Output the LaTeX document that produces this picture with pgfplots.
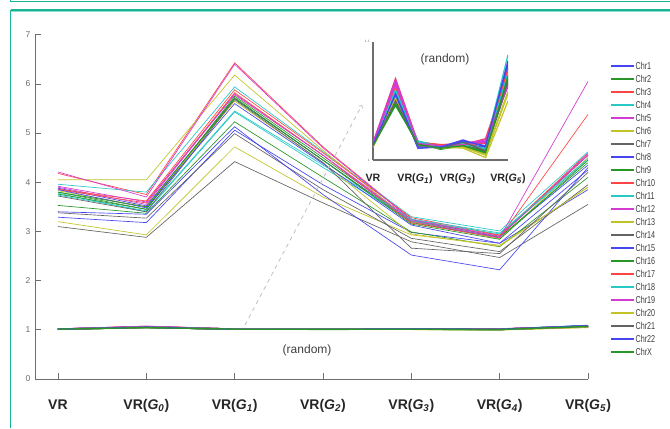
\documentclass[border=0pt]{standalone}
\usepackage{fontspec}
\setmainfont{Liberation Sans}
\newfontfamily\narrowfont[FakeStretch=0.72]{Liberation Sans}
\usepackage{pgfplots}
\pgfplotsset{compat=1.18}
\usepackage{pgfplotstable}

\definecolor{cB}{RGB}{70,70,240}
\definecolor{cG}{RGB}{40,150,40}
\definecolor{cR}{RGB}{255,70,70}
\definecolor{cC}{RGB}{40,200,200}
\definecolor{cM}{RGB}{210,60,210}
\definecolor{cY}{RGB}{195,195,40}
\definecolor{cK}{RGB}{100,100,100}
\definecolor{axisgray}{RGB}{110,110,110}
\definecolor{frameteal}{RGB}{25,180,150}
\definecolor{legtext}{RGB}{60,60,60}
\colorlet{s1}{cB}\colorlet{s2}{cG}\colorlet{s3}{cR}\colorlet{s4}{cC}\colorlet{s5}{cM}\colorlet{s6}{cY}\colorlet{s7}{cK}
\colorlet{s8}{cB}\colorlet{s9}{cG}\colorlet{s10}{cR}\colorlet{s11}{cC}\colorlet{s12}{cM}\colorlet{s13}{cY}\colorlet{s14}{cK}
\colorlet{s15}{cB}\colorlet{s16}{cG}\colorlet{s17}{cR}\colorlet{s18}{cC}\colorlet{s19}{cM}\colorlet{s20}{cY}\colorlet{s21}{cK}
\colorlet{s22}{cB}\colorlet{s23}{cG}

\pgfplotstableread{
x c1 c2 c3 c4 c5 c6 c7 c8 c9 c10 c11 c12 c13 c14 c15 c16 c17 c18 c19 c20 c21 c22 c23
0 3.88 3.80 4.18 3.96 3.90 4.05 3.10 3.29 3.53 3.86 3.78 4.21 3.20 3.38 3.40 3.76 3.85 3.74 3.92 3.83 3.72 3.85 3.80
1 3.52 3.45 3.75 3.80 3.55 4.05 2.88 3.18 3.37 3.62 3.40 3.70 2.93 3.27 3.35 3.45 3.58 3.42 3.60 3.50 3.40 3.48 3.50
2 5.70 5.75 6.43 5.94 5.80 6.18 4.42 5.06 5.23 5.88 5.43 6.40 4.72 4.99 5.13 5.70 5.82 5.45 5.78 5.65 5.68 5.60 5.72
3 4.45 4.50 4.72 4.62 4.55 4.65 3.58 3.95 4.10 4.60 4.30 4.70 3.70 3.85 3.75 4.45 4.55 4.35 4.55 4.40 4.40 4.38 4.45
4 3.20 3.22 3.25 3.30 3.24 3.20 2.79 2.98 2.99 3.28 3.22 3.24 2.93 2.86 2.52 3.18 3.17 3.25 3.21 2.95 2.66 3.13 3.15
5 2.88 2.90 2.92 3.01 2.90 2.85 2.47 2.76 2.69 2.93 2.95 2.90 2.72 2.59 2.22 2.88 2.87 2.97 2.87 2.70 2.55 2.76 2.84
6 4.35 4.55 4.60 4.62 4.58 4.50 3.55 3.85 4.10 4.55 4.45 4.55 3.90 3.95 4.30 4.40 5.38 4.48 6.05 3.90 4.20 4.25 4.45
}\maindata

\pgfplotstableread{
x r1 r2 r3 r4 r5 r6 r7 r8 r9 r10 r11 r12 r13 r14 r15 r16 r17 r18 r19 r20 r21 r22 r23
0 1.013 1.012 1.014 1.013 1.015 1.011 1.012 1.014 1.012 1.013 1.013 1.014 1.011 1.012 1.013 1.012 1.014 1.013 1.014 1.011 1.012 1.013 1.012
1 1.058 1.050 1.069 1.060 1.068 1.052 1.049 1.056 1.046 1.063 1.058 1.066 1.053 1.050 1.057 1.048 1.062 1.059 1.064 1.051 1.050 1.055 1.047
2 1.012 1.013 1.015 1.016 1.014 1.013 1.012 1.010 1.014 1.015 1.016 1.014 1.013 1.013 1.010 1.013 1.014 1.015 1.014 1.012 1.013 1.011 1.013
3 1.011 1.010 1.013 1.012 1.012 1.011 1.010 1.011 1.009 1.013 1.011 1.012 1.010 1.010 1.011 1.010 1.012 1.011 1.012 1.010 1.010 1.011 1.010
4 1.014 1.013 1.013 1.015 1.014 1.010 1.014 1.013 1.012 1.014 1.013 1.014 1.011 1.016 1.017 1.012 1.013 1.014 1.013 1.011 1.015 1.016 1.012
5 1.010 1.008 1.018 1.012 1.017 1.002 1.007 1.011 1.006 1.015 1.010 1.016 1.004 1.008 1.011 1.007 1.014 1.009 1.015 1.005 1.008 1.012 1.006
6 1.080 1.070 1.075 1.089 1.065 1.050 1.068 1.078 1.066 1.072 1.074 1.062 1.056 1.064 1.084 1.069 1.077 1.073 1.063 1.058 1.067 1.082 1.071
}\randdata

\newcommand{\G}[1]{\textit{G}\textsubscript{\textit{#1}}}

\begin{document}
\begin{tikzpicture}[x=0.75pt,y=0.75pt]
\useasboundingbox (0,0) rectangle (670,428);
% frame
\draw[frameteal, line width=0.75pt] (10,426.8) -- (670,426.8);
\draw[frameteal, line width=0.75pt] (10,428) -- (10,426.5);
\draw[frameteal, line width=1.1pt] (10.5,418) -- (670,418);
\draw[frameteal!50, line width=0.8pt] (11,416.8) -- (670,416.8);
\draw[frameteal, line width=1.1pt] (10.5,418) -- (10.5,0);

\begin{axis}[
  at={(26.25pt,36.75pt)}, anchor=south west, scale only axis,
  width=414.75pt, height=258.2pt,
  xmin=-0.26, xmax=6, ymin=0, ymax=7,
  axis x line*=bottom, axis y line*=left,
  axis line style={color=axisgray, line width=0.6pt},
  tick style={color=axisgray, line width=0.6pt},
  tick align=inside, major tick length=4.5pt,
  xtick={0,...,6},
  xticklabels={VR, VR(\G{0}), VR(\G{1}), VR(\G{2}), VR(\G{3}), VR(\G{4}), VR(\G{5})},
  xticklabel style={font=\fontsize{10.5}{12}\selectfont\bfseries, text=black!85, anchor=base, yshift=-23pt},
  ytick={0,...,7},
  /pgf/number format/assume math mode=true,
  yticklabel style={font=\fontsize{6.4}{7}\selectfont, text=axisgray},
  legend style={draw=none, fill=none, at={(axis description cs:1.040,0.925)}, anchor=north west,
    font=\fontsize{7.5}{8}\narrowfont\color{legtext}, inner sep=0pt, row sep=1.45pt,
    nodes={inner sep=0.6pt, text height=5.6pt, text depth=1.5pt}},
  legend cell align=left,
  legend image code/.code={\draw[#1, line width=1.3pt] (0pt,0pt) -- (17pt,0pt);},
  legend entries={Chr1,Chr2,Chr3,Chr4,Chr5,Chr6,Chr7,Chr8,Chr9,Chr10,Chr11,Chr12,Chr13,Chr14,Chr15,Chr16,Chr17,Chr18,Chr19,Chr20,Chr21,Chr22,ChrX},
  clip=false
]
\pgfplotsinvokeforeach{1,...,23}{
  \addplot[color=s#1, line width=0.5pt] table[x=x, y=c#1] {\maindata};
}
\pgfplotsinvokeforeach{1,...,23}{
  \addplot[color=s#1, line width=1pt, forget plot] table[x=x, y=r#1] {\randdata};
}
\node[font=\fontsize{9}{10}\selectfont, text=black!75] at (axis cs:2.82,0.59) {(random)};
\end{axis}

\draw[dashed, dash pattern=on 3pt off 3pt, gray!50, line width=0.6pt, ->] (245,103) -- (362,323);

\begin{axis}[
  at={(279.75pt,201pt)}, anchor=south west, scale only axis,
  width=101.25pt, height=88.7pt,
  xmin=0, xmax=6, ymin=1, ymax=1.1,
  axis x line*=bottom, axis y line*=left,
  axis line style={color=axisgray, line width=1.1pt},
  major tick length=0pt,
  xtick={0,1.87,3.76,6},
  xticklabels={VR, VR(\G{1}), VR(\G{3}), VR(\G{5})},
  xticklabel style={font=\fontsize{8}{9}\selectfont\bfseries, text=black!85, anchor=base, yshift=-16pt},
  ytick={1,1.1},
  yticklabels={1,1.1},
  yticklabel style={font=\fontsize{2.5}{3}\selectfont, text=axisgray, xshift=1pt},
  clip=true
]
\pgfplotsinvokeforeach{1,...,23}{
  \addplot[color=s#1, line width=0.9pt] table[x=x, y=r#1] {\randdata};
}
\node[font=\fontsize{9}{10}\selectfont, text=black!75] at (axis cs:3.2,1.085) {(random)};
\end{axis}
\end{tikzpicture}
\end{document}
